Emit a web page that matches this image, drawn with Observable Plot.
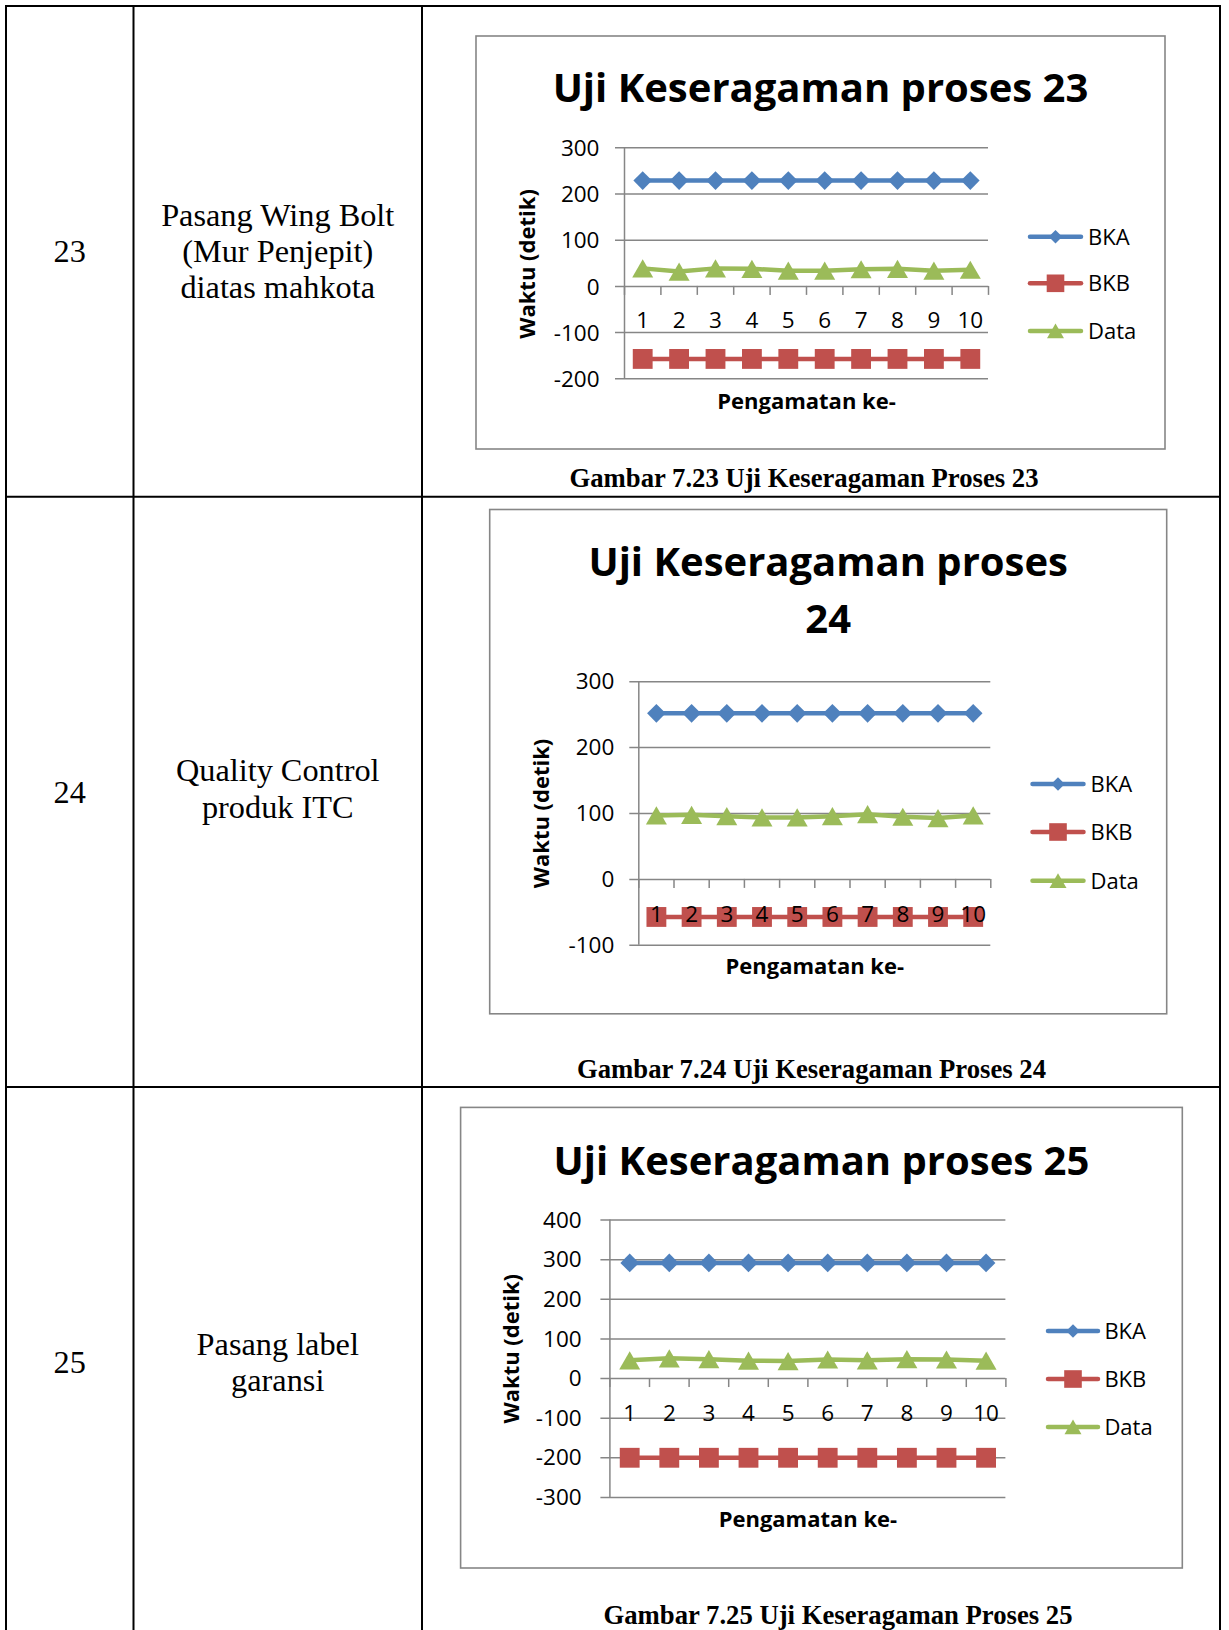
<!DOCTYPE html>
<html>
<head>
<meta charset="utf-8">
<script src="https://cdn.jsdelivr.net/npm/d3@7"></script>
<script src="https://cdn.jsdelivr.net/npm/@observablehq/plot@0.6"></script>
<style>
html, body { margin: 0; padding: 0; background: #fff; }
#page { position: relative; width: 1229px; height: 1630px; overflow: hidden; background: #fff; }
</style>
</head>
<body>
<div id="page"></div>
<script>
// ---------------- DATA ----------------
const observations = [1, 2, 3, 4, 5, 6, 7, 8, 9, 10];
const seriesNames = ["BKA", "BKB", "Data"];
const seriesColors = ["#4F81BD", "#C0504D", "#9BBB59"];

const bka23 = [229, 229, 229, 229, 229, 229, 229, 229, 229, 229];
const bkb23 = [-157, -157, -157, -157, -157, -157, -157, -157, -157, -157];
const data23 = [39, 32, 39, 38, 34, 34, 37, 38, 34, 36];
const yTicks23 = [-200, -100, 0, 100, 200, 300];

const bka24 = [252, 252, 252, 252, 252, 252, 252, 252, 252, 252];
const bkb24 = [-57, -57, -57, -57, -57, -57, -57, -57, -57, -57];
const data24 = [97, 98, 96, 94, 94, 96, 99, 95, 93, 97];
const yTicks24 = [-100, 0, 100, 200, 300];

const bka25 = [292, 292, 292, 292, 292, 292, 292, 292, 292, 292];
const bkb25 = [-200, -200, -200, -200, -200, -200, -200, -200, -200, -200];
const data25 = [46, 51, 49, 45, 44, 48, 46, 49, 48, 45];
const yTicks25 = [-300, -200, -100, 0, 100, 200, 300, 400];

const processNumbers = ["23", "24", "25"];
const processNames = [
  ["Pasang Wing Bolt", "(Mur Penjepit)", "diatas mahkota"],
  ["Quality Control", "produk ITC"],
  ["Pasang label", "garansi"]
];
const chartTitles = [
  ["Uji Keseragaman proses 23"],
  ["Uji Keseragaman proses", "24"],
  ["Uji Keseragaman proses 25"]
];
const captions = [
  "Gambar 7.23 Uji Keseragaman Proses 23",
  "Gambar 7.24 Uji Keseragaman Proses 24",
  "Gambar 7.25 Uji Keseragaman Proses 25"
];
const xAxisTitle = "Pengamatan ke-";
const yAxisTitle = "Waktu (detik)";

// ---------------- LAYOUT / STYLE ----------------
const W = 1229, H = 1630;
const GRID = "#868686";
const CHART_FONT = '"Open Sans", "DejaVu Sans", sans-serif';
const SERIF = '"Liberation Serif", "Times New Roman", serif';
const markerSymbols = ["diamond2", "square", "triangle"];
const markerR = [8.4, 11.2, 7.8];
const markerDy = [0, 0, 3];
const legendSym = [d3.symbolDiamond2, d3.symbolSquare, d3.symbolTriangle];
const legendSize = [115, 310, 125];
const legendSymDy = [0, 0, 2.4];
const TICK_FONT = 22.5;
const TABLE_FONT = "32.3px";
const CAPTION_FONT = "26.7px";
const TITLE_FONT = "40px";

const table = { left: 6, right: 1220, top: 6, cols: [133.5, 422], rows: [496.7, 1087], stroke: 2 };
const numCx = (table.left + table.cols[0]) / 2;
const descCx = (table.cols[0] + table.cols[1]) / 2;

const layouts = [
  {
    box: { left: 476, top: 36, right: 1165, bottom: 449 },
    frame: { left: 624, right: 988, top: 147.3, bottom: 378.3 },
    titleBaselines: [101.7],
    legend: { x1: 1028, x2: 1083, labelX: 1088, ys: [236.7, 283.3, 331] },
    yLabelGap: 25, yLabelDy: 1, xLabelDy: 34, xTitleDy: 30, yTitleDx: -96.5, yTitleDy: 0.7,
    row: { num: 261.7, desc: [225.5, 261.5, 297.5] },
    caption: { cx: 804, y: 486.6 }
  },
  {
    box: { left: 489.7, top: 509.5, right: 1166.7, bottom: 1013.8 },
    frame: { left: 638, right: 990, top: 680.7, bottom: 944.3 },
    titleBaselines: [575.9, 633],
    legend: { x1: 1030.5, x2: 1085.5, labelX: 1090.5, ys: [784, 832, 880.7] },
    yLabelGap: 24.5, yLabelDy: 0.5, xLabelDy: 35.2, xTitleDy: 28.7, yTitleDx: -97, yTitleDy: 0,
    row: { num: 803, desc: [781, 818] },
    caption: { cx: 811.5, y: 1078 }
  },
  {
    box: { left: 460.6, top: 1107.4, right: 1182.3, bottom: 1568 },
    frame: { left: 609, right: 1005, top: 1220, bottom: 1497.3 },
    titleBaselines: [1174.8],
    legend: { x1: 1046, x2: 1100, labelX: 1104.4, ys: [1331, 1379, 1427] },
    yLabelGap: 28.3, yLabelDy: 0.5, xLabelDy: 35, xTitleDy: 29.7, yTitleDx: -98, yTitleDy: -10,
    row: { num: 1373, desc: [1355, 1391] },
    caption: { cx: 838, y: 1624 }
  }
];

const charts = [
  { bka: bka23, bkb: bkb23, data: data23, yTicks: yTicks23 },
  { bka: bka24, bkb: bkb24, data: data24, yTicks: yTicks24 },
  { bka: bka25, bkb: bkb25, data: data25, yTicks: yTicks25 }
];

// ---------------- PAGE (table, captions, chart boxes, titles, legends) ----------------
const page = document.getElementById("page");
const bg = d3.select(page).append("svg")
  .attr("width", W).attr("height", H)
  .style("position", "absolute").style("left", "0px").style("top", "0px");

// table lines
const tl = bg.append("g").attr("stroke", "#000").attr("stroke-width", table.stroke);
tl.append("line").attr("x1", table.left).attr("x2", table.left).attr("y1", table.top - 1).attr("y2", H);
tl.append("line").attr("x1", table.right).attr("x2", table.right).attr("y1", table.top - 1).attr("y2", H);
tl.append("line").attr("x1", table.left - 1).attr("x2", table.right + 1).attr("y1", table.top).attr("y2", table.top);
table.cols.forEach(x => tl.append("line").attr("x1", x).attr("x2", x).attr("y1", table.top).attr("y2", H));
table.rows.forEach(y => tl.append("line").attr("x1", table.left).attr("x2", table.right).attr("y1", y).attr("y2", y));

layouts.forEach((L, c) => {
  // row texts
  bg.append("text").attr("x", numCx).attr("y", L.row.num)
    .attr("text-anchor", "middle").style("font-family", SERIF).style("font-size", TABLE_FONT)
    .text(processNumbers[c]);
  processNames[c].forEach((line, j) => {
    bg.append("text").attr("x", descCx).attr("y", L.row.desc[j])
      .attr("text-anchor", "middle").style("font-family", SERIF).style("font-size", TABLE_FONT)
      .text(line);
  });
  // caption
  bg.append("text").attr("x", L.caption.cx).attr("y", L.caption.y)
    .attr("text-anchor", "middle").style("font-family", SERIF).style("font-size", CAPTION_FONT)
    .style("font-weight", "bold").text(captions[c]);
  // chart box
  bg.append("rect").attr("x", L.box.left).attr("y", L.box.top)
    .attr("width", L.box.right - L.box.left).attr("height", L.box.bottom - L.box.top)
    .attr("fill", "#fff").attr("stroke", GRID).attr("stroke-width", 1.6);
  // title
  const cx = (L.box.left + L.box.right) / 2;
  chartTitles[c].forEach((t, j) => {
    bg.append("text").attr("x", cx).attr("y", L.titleBaselines[j])
      .attr("text-anchor", "middle").style("font-family", CHART_FONT)
      .style("font-size", TITLE_FONT).style("font-weight", "bold").text(t);
  });
  // legend
  seriesNames.forEach((name, k) => {
    const y = L.legend.ys[k];
    const g = bg.append("g");
    g.append("line").attr("x1", L.legend.x1 + 2).attr("x2", L.legend.x2 - 2).attr("y1", y).attr("y2", y)
      .attr("stroke", seriesColors[k]).attr("stroke-width", 4.5).attr("stroke-linecap", "round");
    g.append("path").attr("d", d3.symbol(legendSym[k], legendSize[k])())
      .attr("transform", `translate(${(L.legend.x1 + L.legend.x2) / 2},${y + legendSymDy[k]})`)
      .attr("fill", seriesColors[k]);
    g.append("text").attr("x", L.legend.labelX).attr("y", y + 8)
      .style("font-family", CHART_FONT).style("font-size", "22px").text(name);
  });
});

// ---------------- CHARTS (Observable Plot) ----------------
function buildChart(cfg, L) {
  const xDomain = [observations[0] - 0.5, observations[observations.length - 1] + 0.5];
  const boundaries = [xDomain[0], ...observations.map(d => d + 0.5)];
  const yDomain = [d3.min(cfg.yTicks), d3.max(cfg.yTicks)];
  const tick = 9;
  const marks = [
    Plot.ruleY(cfg.yTicks, { y: d => d, stroke: GRID, strokeWidth: 1.5, insetLeft: -tick }),
    Plot.ruleX([xDomain[0]], { x: d => d, stroke: GRID, strokeWidth: 1.5 }),
    Plot.ruleX(boundaries, { x: d => d, y1: () => 0, y2: () => 0, insetBottom: -tick, stroke: GRID, strokeWidth: 1.5 }),
    Plot.axisY({ ticks: cfg.yTicks, tickSize: 0, tickPadding: L.yLabelGap, tickFormat: d => String(d),
      fontSize: TICK_FONT, fill: "#000", dy: L.yLabelDy, label: null })
  ];
  [cfg.bka, cfg.bkb, cfg.data].forEach((vals, k) => {
    marks.push(Plot.line(observations, {
      x: d => d, y: (d, i) => vals[i], stroke: seriesColors[k], strokeWidth: 4.5,
      strokeLinecap: "round", strokeLinejoin: "round"
    }));
    marks.push(Plot.dot(observations, {
      x: d => d, y: (d, i) => vals[i], symbol: markerSymbols[k], r: markerR[k],
      fill: seriesColors[k], stroke: "none", dy: markerDy[k]
    }));
  });
  marks.push(Plot.text(observations, { x: d => d, y: () => 0, text: d => String(d), dy: L.xLabelDy, fontSize: TICK_FONT, fill: "#000" }));
  marks.push(Plot.text([xAxisTitle], { frameAnchor: "bottom", text: d => d, dy: L.xTitleDy, lineAnchor: "bottom",
    fontSize: 22, fontWeight: "bold", fill: "#000" }));
  marks.push(Plot.text([yAxisTitle], { frameAnchor: "left", text: d => d, rotate: -90, dx: L.yTitleDx, dy: L.yTitleDy,
    textAnchor: "middle", lineAnchor: "middle", fontSize: 22, fontWeight: "bold", fill: "#000" }));

  const svg = Plot.plot({
    width: L.box.right - L.box.left,
    height: L.box.bottom - L.box.top,
    marginLeft: L.frame.left - L.box.left,
    marginRight: L.box.right - L.frame.right,
    marginTop: L.frame.top - L.box.top,
    marginBottom: L.box.bottom - L.frame.bottom,
    x: { domain: xDomain, axis: null },
    y: { domain: yDomain },
    style: { fontFamily: CHART_FONT, color: "#000", background: "transparent", overflow: "visible" },
    marks
  });
  svg.style.position = "absolute";
  svg.style.left = L.box.left + "px";
  svg.style.top = L.box.top + "px";
  svg.style.maxWidth = "none";
  page.appendChild(svg);
}

charts.forEach((cfg, c) => buildChart(cfg, layouts[c]));
</script>
</body>
</html>
